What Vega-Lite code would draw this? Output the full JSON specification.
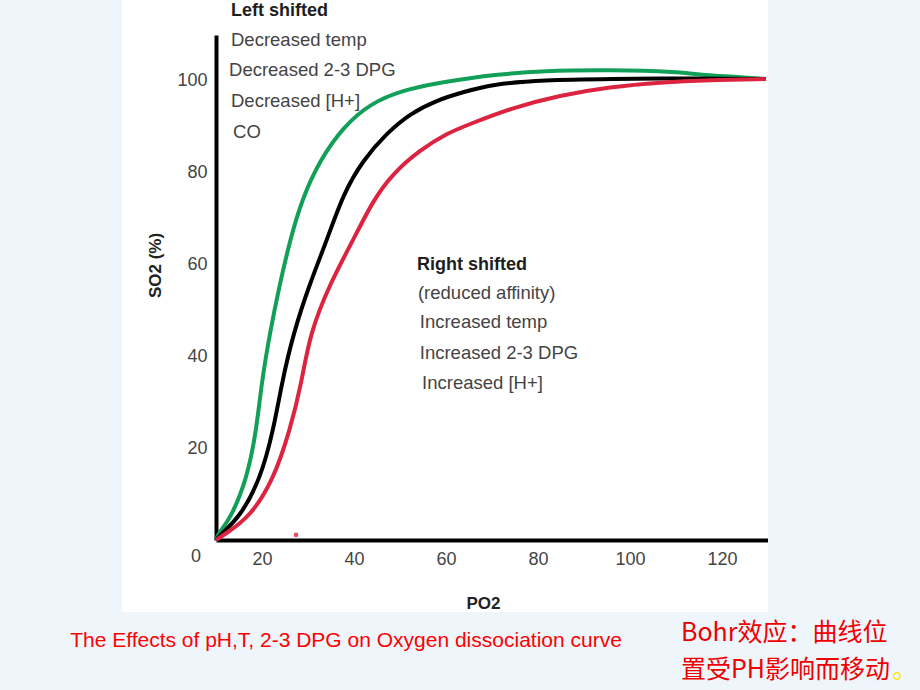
{
  "$schema": "https://vega.github.io/schema/vega-lite/v6.json",
  "width": 552,
  "height": 505,
  "autosize": {"type": "none"},
  "padding": {"left": 216, "top": 35, "right": 152, "bottom": 150},
  "background": "#ffffff",
  "config": {
    "view": {"stroke": null},
    "font": "Liberation Sans",
    "axis": {
      "grid": false, "ticks": false, "domainWidth": 4, "domainColor": "#000000",
      "labelFontSize": 18, "labelColor": "#444444",
      "titleFontSize": 17, "titleFontWeight": "bold", "titleColor": "#222222"
    }
  },
  "datasets": {
    "curves": [
      {"s": "left", "po2": 10, "so2": 0},
      {"s": "left", "po2": 10.5, "so2": 1.5},
      {"s": "left", "po2": 13.0, "so2": 4.4},
      {"s": "left", "po2": 16.7, "so2": 13.1},
      {"s": "left", "po2": 18.8, "so2": 24.0},
      {"s": "left", "po2": 19.9, "so2": 34.2},
      {"s": "left", "po2": 21.7, "so2": 45.1},
      {"s": "left", "po2": 23.9, "so2": 55.9},
      {"s": "left", "po2": 26.1, "so2": 65.3},
      {"s": "left", "po2": 28.6, "so2": 74.0},
      {"s": "left", "po2": 32.6, "so2": 82.8},
      {"s": "left", "po2": 37.7, "so2": 90.0},
      {"s": "left", "po2": 43.5, "so2": 95.1},
      {"s": "left", "po2": 50.7, "so2": 98.0},
      {"s": "left", "po2": 58.0, "so2": 99.5},
      {"s": "left", "po2": 65.2, "so2": 100.6},
      {"s": "left", "po2": 70.3, "so2": 101.3},
      {"s": "left", "po2": 81.1, "so2": 102.2},
      {"s": "left", "po2": 95.7, "so2": 102.4},
      {"s": "left", "po2": 110.2, "so2": 102.0},
      {"s": "left", "po2": 117.4, "so2": 101.1},
      {"s": "left", "po2": 128.3, "so2": 100.6},
      {"s": "left", "po2": 129.5, "so2": 100.4},
      {"s": "normal", "po2": 10, "so2": 0},
      {"s": "normal", "po2": 11.6, "so2": 1.8},
      {"s": "normal", "po2": 15.2, "so2": 5.1},
      {"s": "normal", "po2": 19.6, "so2": 13.1},
      {"s": "normal", "po2": 22.5, "so2": 24.0},
      {"s": "normal", "po2": 24.3, "so2": 34.2},
      {"s": "normal", "po2": 26.8, "so2": 45.0},
      {"s": "normal", "po2": 30.4, "so2": 55.9},
      {"s": "normal", "po2": 34.1, "so2": 65.3},
      {"s": "normal", "po2": 37.7, "so2": 75.5},
      {"s": "normal", "po2": 42.0, "so2": 82.8},
      {"s": "normal", "po2": 47.1, "so2": 88.6},
      {"s": "normal", "po2": 52.2, "so2": 92.9},
      {"s": "normal", "po2": 58.0, "so2": 95.8},
      {"s": "normal", "po2": 63.8, "so2": 97.6},
      {"s": "normal", "po2": 70.2, "so2": 99.3},
      {"s": "normal", "po2": 81.1, "so2": 100.2},
      {"s": "normal", "po2": 95.7, "so2": 100.4},
      {"s": "normal", "po2": 113.7, "so2": 100.6},
      {"s": "normal", "po2": 129.5, "so2": 100.4},
      {"s": "right", "po2": 10, "so2": 0},
      {"s": "right", "po2": 12.3, "so2": 1.5},
      {"s": "right", "po2": 17.4, "so2": 5.1},
      {"s": "right", "po2": 22.5, "so2": 13.1},
      {"s": "right", "po2": 26.1, "so2": 24.0},
      {"s": "right", "po2": 28.6, "so2": 34.2},
      {"s": "right", "po2": 30.4, "so2": 45.0},
      {"s": "right", "po2": 34.8, "so2": 55.9},
      {"s": "right", "po2": 39.8, "so2": 65.3},
      {"s": "right", "po2": 44.2, "so2": 74.1},
      {"s": "right", "po2": 48.5, "so2": 79.9},
      {"s": "right", "po2": 54.3, "so2": 84.9},
      {"s": "right", "po2": 60.2, "so2": 88.6},
      {"s": "right", "po2": 65.2, "so2": 90.6},
      {"s": "right", "po2": 73.9, "so2": 94.0},
      {"s": "right", "po2": 84.8, "so2": 96.9},
      {"s": "right", "po2": 95.7, "so2": 98.7},
      {"s": "right", "po2": 106.5, "so2": 99.7},
      {"s": "right", "po2": 117.4, "so2": 100.2},
      {"s": "right", "po2": 129.5, "so2": 100.4}
    ],
    "labels": [
      {"g": "head", "t": "Left shifted", "x": 13.26, "y": 115.2},
      {"g": "item", "t": "Decreased temp", "x": 13.26, "y": 108.9},
      {"g": "item", "t": "Decreased 2-3 DPG", "x": 12.83, "y": 102.4},
      {"g": "item", "t": "Decreased [H+]", "x": 13.26, "y": 95.6},
      {"g": "item", "t": "CO", "x": 13.7, "y": 88.9},
      {"g": "head", "t": "Right shifted", "x": 53.7, "y": 59.9},
      {"g": "item", "t": "(reduced affinity)", "x": 53.9, "y": 53.8},
      {"g": "item", "t": "Increased temp", "x": 54.3, "y": 47.5},
      {"g": "item", "t": "Increased 2-3 DPG", "x": 54.3, "y": 40.7},
      {"g": "item", "t": "Increased [H+]", "x": 54.8, "y": 34.2},
      {"g": "corner", "t": "0", "x": 5.65, "y": -3.7},
      {"g": "caption", "t": "The Effects of pH,T, 2-3 DPG on Oxygen dissociation curve", "x": 38.26, "y": -21.95},
      {"g": "cjk", "t": "Bohr效应：曲线位", "x": 111.09, "y": -20.26},
      {"g": "cjk", "t": "置受PH影响而移动", "x": 111.09, "y": -28.3},
      {"g": "dot", "t": "。", "x": 157.0, "y": -28.3}
    ],
    "marks": [
      {"po2": 27.4, "so2": 1.1}
    ],
    "strips": [
      {"x1": -36.96, "x2": -10.43, "y1": -32.67, "y2": 117.62},
      {"x1": 130, "x2": 163.04, "y1": -32.67, "y2": 117.62},
      {"x1": -36.96, "x2": 163.04, "y1": -32.67, "y2": -15.7}
    ]
  },
  "layer": [
    {
      "data": {"name": "strips"},
      "mark": {"type": "rect", "color": "#eef6fc"},
      "encoding": {
        "x": {"field": "x1", "type": "quantitative", "scale": {"domain": [10, 130], "nice": false, "zero": false}},
        "x2": {"field": "x2"},
        "y": {"field": "y1", "type": "quantitative", "scale": {"domain": [0, 110], "nice": false, "zero": false}},
        "y2": {"field": "y2"}
      }
    },
    {
      "data": {"name": "curves"},
      "transform": [{"filter": "datum.s === 'left'"}],
      "mark": {"type": "line", "color": "#12a058", "strokeWidth": 4, "interpolate": "basis"},
      "encoding": {
        "x": {
          "field": "po2", "type": "quantitative",
          "axis": {"values": [20, 40, 60, 80, 100, 120], "labelPadding": 10, "title": "PO2", "titleX": 267, "titleY": 63, "titleAlign": "center", "titleBaseline": "middle"}
        },
        "y": {
          "field": "so2", "type": "quantitative",
          "axis": {"values": [20, 40, 60, 80, 100], "labelPadding": 9, "title": "SO2 (%)", "titleX": -61, "titleY": 230, "titleAngle": -90, "titleAlign": "center", "titleBaseline": "middle"}
        }
      }
    },
    {
      "data": {"name": "curves"},
      "transform": [{"filter": "datum.s === 'normal'"}],
      "mark": {"type": "line", "color": "#000000", "strokeWidth": 4, "interpolate": "basis"},
      "encoding": {
        "x": {"field": "po2", "type": "quantitative"},
        "y": {"field": "so2", "type": "quantitative"}
      }
    },
    {
      "data": {"name": "curves"},
      "transform": [{"filter": "datum.s === 'right'"}],
      "mark": {"type": "line", "color": "#dc2440", "strokeWidth": 4, "interpolate": "basis"},
      "encoding": {
        "x": {"field": "po2", "type": "quantitative"},
        "y": {"field": "so2", "type": "quantitative"}
      }
    },
    {
      "data": {"name": "marks"},
      "mark": {"type": "circle", "color": "#dc2440", "size": 22, "opacity": 0.8},
      "encoding": {
        "x": {"field": "po2", "type": "quantitative"},
        "y": {"field": "so2", "type": "quantitative"}
      }
    },
    {
      "data": {"name": "labels"},
      "transform": [{"filter": "datum.g === 'head'"}],
      "mark": {"type": "text", "align": "left", "baseline": "middle", "fontSize": 18, "fontWeight": "bold", "color": "#1e1e1e"},
      "encoding": {
        "x": {"field": "x", "type": "quantitative"},
        "y": {"field": "y", "type": "quantitative"},
        "text": {"field": "t"}
      }
    },
    {
      "data": {"name": "labels"},
      "transform": [{"filter": "datum.g === 'item'"}],
      "mark": {"type": "text", "align": "left", "baseline": "middle", "fontSize": 18.5, "color": "#444444"},
      "encoding": {
        "x": {"field": "x", "type": "quantitative"},
        "y": {"field": "y", "type": "quantitative"},
        "text": {"field": "t"}
      }
    },
    {
      "data": {"name": "labels"},
      "transform": [{"filter": "datum.g === 'corner'"}],
      "mark": {"type": "text", "align": "center", "baseline": "middle", "fontSize": 18, "color": "#444444"},
      "encoding": {
        "x": {"field": "x", "type": "quantitative"},
        "y": {"field": "y", "type": "quantitative"},
        "text": {"field": "t"}
      }
    },
    {
      "data": {"name": "labels"},
      "transform": [{"filter": "datum.g === 'caption'"}],
      "mark": {"type": "text", "align": "center", "baseline": "middle", "fontSize": 21, "color": "#ff0000"},
      "encoding": {
        "x": {"field": "x", "type": "quantitative"},
        "y": {"field": "y", "type": "quantitative"},
        "text": {"field": "t"}
      }
    },
    {
      "data": {"name": "labels"},
      "transform": [{"filter": "datum.g === 'cjk'"}],
      "mark": {"type": "text", "align": "left", "baseline": "middle", "fontSize": 25, "color": "#f00000", "font": "Noto Sans CJK SC"},
      "encoding": {
        "x": {"field": "x", "type": "quantitative"},
        "y": {"field": "y", "type": "quantitative"},
        "text": {"field": "t"}
      }
    },
    {
      "data": {"name": "labels"},
      "transform": [{"filter": "datum.g === 'dot'"}],
      "mark": {"type": "text", "align": "left", "baseline": "middle", "fontSize": 25, "color": "#ffe400", "font": "Noto Sans CJK SC"},
      "encoding": {
        "x": {"field": "x", "type": "quantitative"},
        "y": {"field": "y", "type": "quantitative"},
        "text": {"field": "t"}
      }
    }
  ]
}
